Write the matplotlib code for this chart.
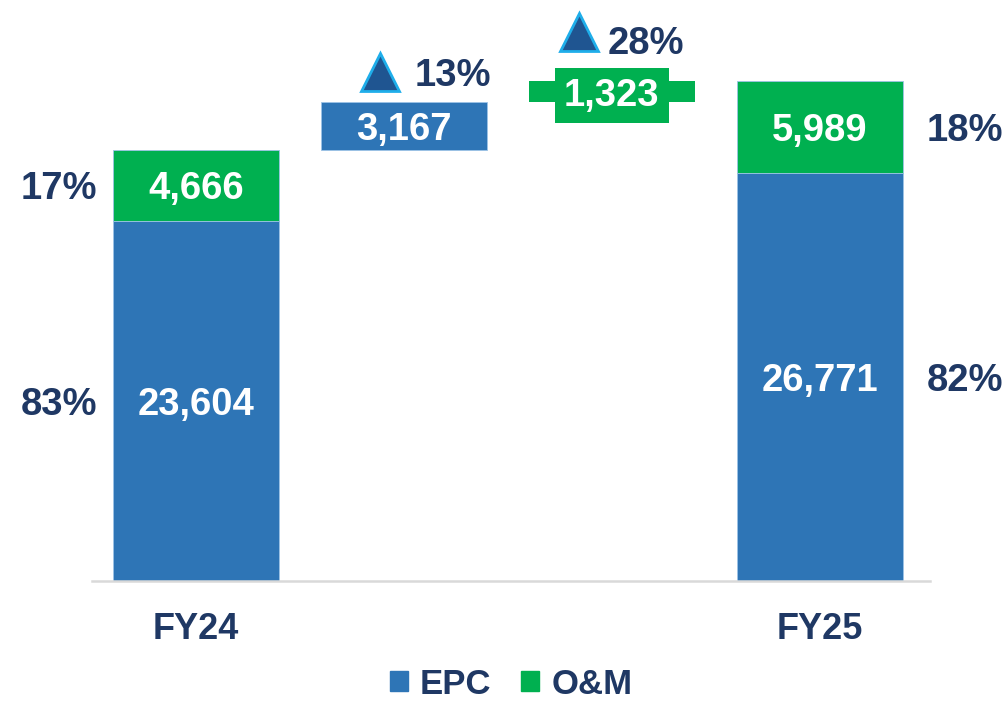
import matplotlib.pyplot as plt
from matplotlib.patches import Patch
from matplotlib.transforms import offset_copy

plt.rcParams["font.family"] = ["Liberation Sans", "DejaVu Sans"]
plt.rcParams["font.weight"] = "bold"

# Data
years = ["FY24", "FY25"]
epc = [23604, 26771]
om = [4666, 5989]
epc_share = ["83%", "82%"]
om_share = ["17%", "18%"]
epc_change = 3167
om_change = 1323
epc_growth = "13%"
om_growth = "28%"

blue = "#2E75B6"
green = "#00B050"
navy = "#1F3864"

fig = plt.figure(figsize=(10.07, 7.03), dpi=100)
ax = fig.add_axes([92 / 1007, 122 / 703, 838 / 1007, 581 / 703])

x = [0, 1, 2, 3]
w = 0.8
fy24_total = epc[0] + om[0]

# Year bars (stacked)
ax.bar([x[0], x[3]], epc, width=w, color=blue, edgecolor="#9DC3E6", linewidth=0.6)
ax.bar([x[0], x[3]], om, bottom=epc, width=w, color=green, edgecolor="#9DC3E6", linewidth=0.6)

# Bridge bars
ax.bar(x[1], epc_change, bottom=fy24_total, width=w, color=blue, edgecolor="#9DC3E6", linewidth=0.6)
ax.bar(x[2], om_change, bottom=fy24_total + epc_change, width=w, color=green)

ax.set_xlim(-0.5, 3.53)
ax.set_ylim(0, 38100)

# values inside the year bars
lab = dict(color="white", fontsize=27.5, fontweight="bold", ha="center", va="center_baseline")
for i, xi in enumerate([x[0], x[3]]):
    ax.text(xi, epc[i] / 2, f"{epc[i]:,}", **lab)
    ax.text(xi, epc[i] + om[i] / 2, f"{om[i]:,}", **lab)

# share labels beside the bars
pct = dict(color=navy, fontsize=27.5, fontweight="bold", va="center_baseline")
ax.annotate(epc_share[0], (x[0] - w / 2, epc[0] / 2), xytext=(-11, 0),
            textcoords="offset points", ha="right", **pct)
ax.annotate(om_share[0], (x[0] - w / 2, epc[0] + om[0] / 2), xytext=(-11, 0),
            textcoords="offset points", ha="right", **pct)
ax.annotate(epc_share[1], (x[3] + w / 2, epc[1] / 2), xytext=(17, 0),
            textcoords="offset points", ha="left", annotation_clip=False, **pct)
ax.annotate(om_share[1], (x[3] + w / 2, epc[1] + om[1] / 2), xytext=(17, 0),
            textcoords="offset points", ha="left", annotation_clip=False, **pct)

# bridge values
ax.text(x[1], fy24_total + epc_change / 2, f"{epc_change:,}", **lab)
ax.text(x[2], fy24_total + epc_change + om_change / 2, f"{om_change:,}",
        bbox=dict(boxstyle="square,pad=0.25", fc=green, ec="none"), **lab)

# growth markers
tops = [(x[1], fy24_total + epc_change, epc_growth, (-17, 21.5), (8, 21)),
        (x[2], fy24_total + epc_change + om_change, om_growth, (-24, 35.5), (-3, 30))]
for xi, top, txt, tri_off, txt_off in tops:
    tr = offset_copy(ax.transData, fig=fig, x=tri_off[0], y=tri_off[1], units="points")
    ax.plot([xi], [top], marker="^", markersize=28, color="#1F5591",
            markeredgecolor="#1FAEEA", markeredgewidth=2, transform=tr, clip_on=False)
    ax.annotate(txt, (xi, top), xytext=txt_off, textcoords="offset points",
                ha="left", va="center_baseline", color=navy, fontsize=27.5, fontweight="bold")

# axes styling
for s in ["top", "right", "left"]:
    ax.spines[s].set_visible(False)
ax.spines["bottom"].set_color("#D9D9D9")
ax.spines["bottom"].set_linewidth(1.8)
ax.set_yticks([])
ax.set_xticks(x)
ax.set_xticklabels([years[0], "", "", years[1]], fontsize=26, fontweight="bold", color=navy)
ax.tick_params(axis="x", length=0, pad=22)

handles = [Patch(color=blue, label="EPC"), Patch(color=green, label="O&M")]
leg = fig.legend(handles=handles, loc="center", bbox_to_anchor=(511 / 1007, 19 / 703),
                 ncol=2, frameon=False, fontsize=25, handlelength=0.53, handleheight=0.53,
                 handletextpad=0.34, columnspacing=0.85)
for t in leg.get_texts():
    t.set_color(navy)
    t.set_fontweight("bold")

plt.savefig("out.png", dpi=100)
